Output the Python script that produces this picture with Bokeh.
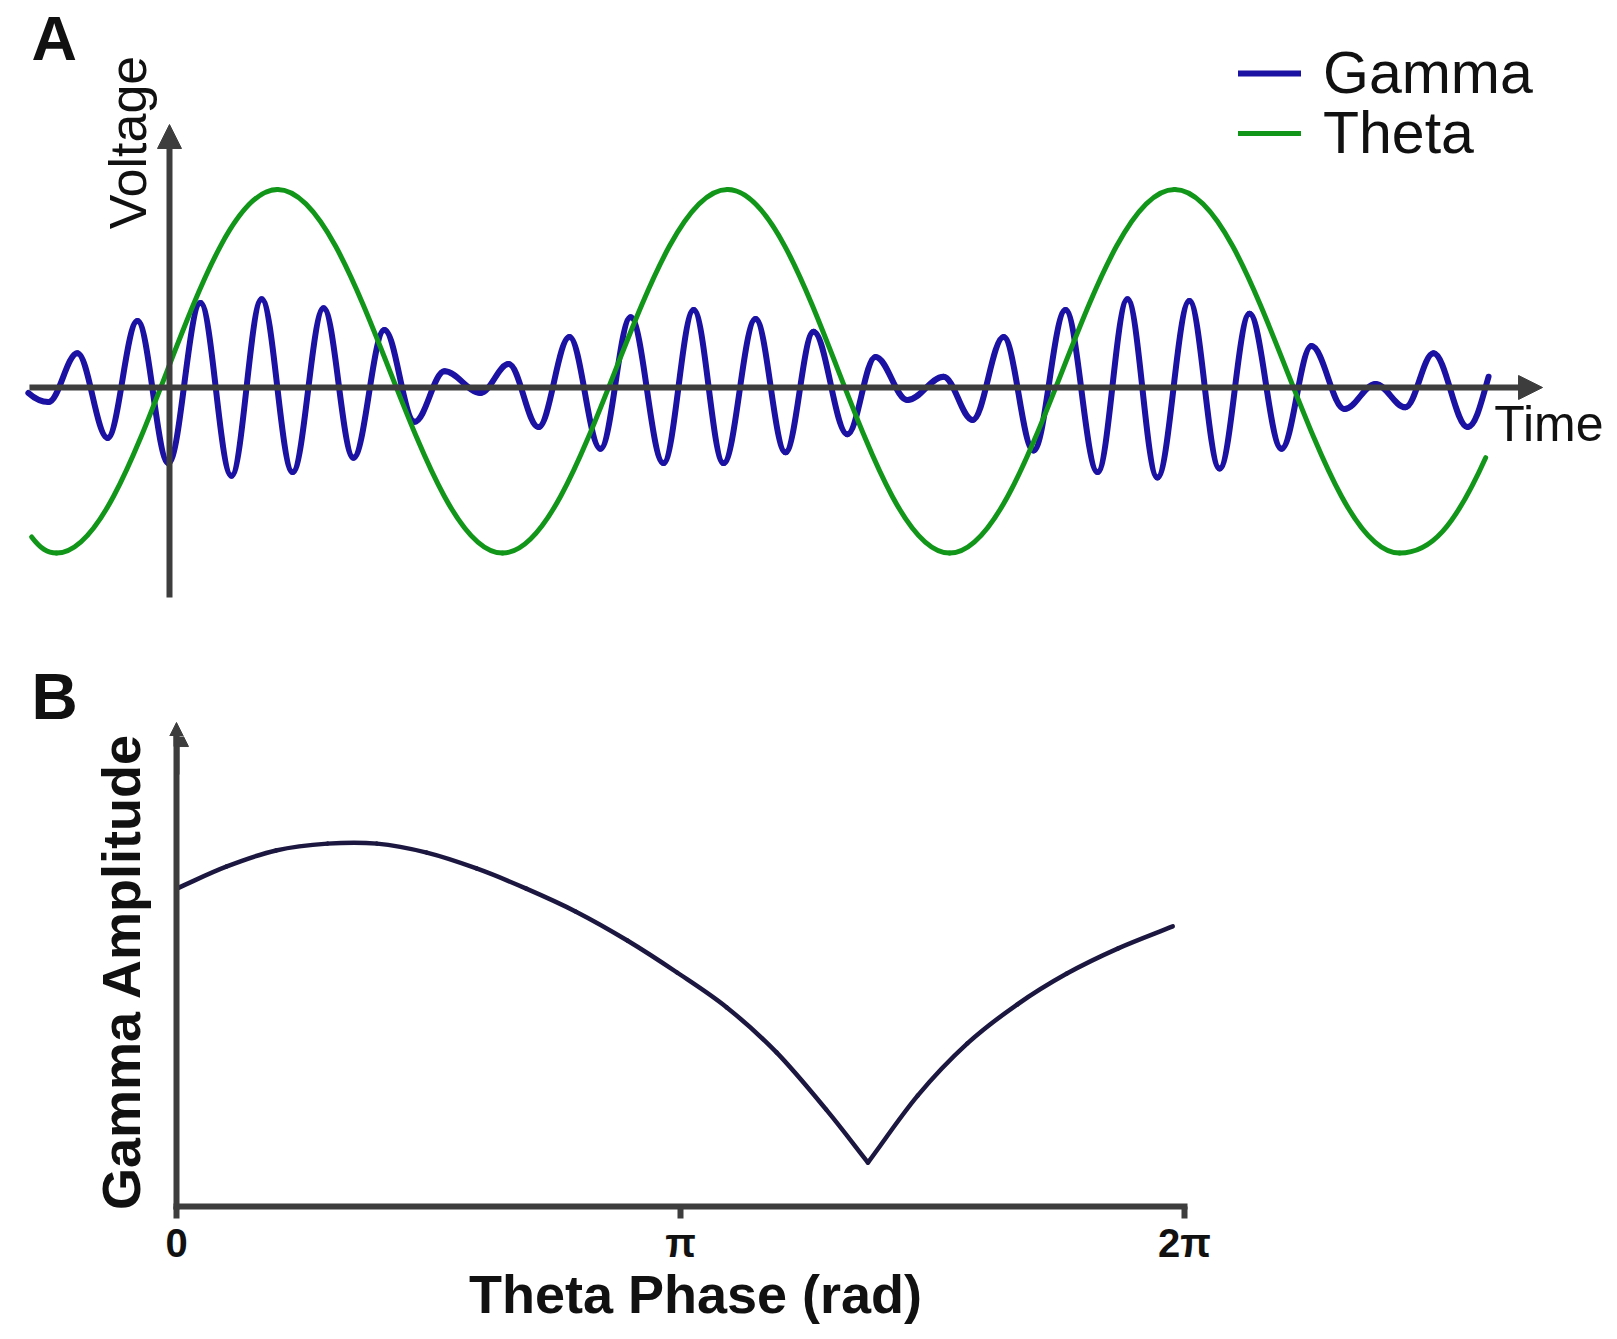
import math
from bokeh.plotting import figure
from bokeh.models import (Range1d, Arrow, NormalHead, Label, Legend, LegendItem,
                          ColumnDataSource, FixedTicker, CustomJSTickFormatter)
from bokeh.embed import file_html
from bokeh.resources import INLINE

# ---------------- data ----------------
# Panel A: successive extrema of the traces (time in ms, voltage in mV)
gamma_t = [-39.2, -33.6, -25.6, -17.2, -8.9, -0.3, 8.6, 17.2, 25.6, 34.2, 42.8,
           51.1, 59.7, 68.1, 76.4, 86.4, 94.2, 102.5, 111.1, 119.7, 128.1,
           137.2, 145.6, 153.9, 162.8, 171.1, 178.9, 188.3, 196.1, 205.0,
           215.0, 223.1, 231.7, 240.0, 248.9, 257.8, 266.1, 274.4, 283.3,
           291.7, 300.0, 308.9, 317.2, 326.4, 335.0, 343.3, 351.1, 360.6, 366.4]
gamma_v = [-0.03, -0.08, 0.19, -0.28, 0.37, -0.42, 0.47, -0.49, 0.49, -0.47, 0.44,
           -0.39, 0.32, -0.19, 0.09, -0.03, 0.13, -0.22, 0.28, -0.34, 0.39,
           -0.42, 0.43, -0.42, 0.38, -0.36, 0.31, -0.26, 0.17, -0.07,
           0.06, -0.18, 0.28, -0.35, 0.43, -0.47, 0.49, -0.50, 0.48,
           -0.45, 0.41, -0.34, 0.23, -0.12, 0.02, -0.11, 0.19, -0.22, 0.06]
theta_t = [-38.3, -31.4, 30.0, 92.5, 155.0, 216.7, 279.2, 341.7, 365.6]
theta_v = [-0.83, -0.92, 1.10, -0.92, 1.10, -0.92, 1.10, -0.92, -0.39]
series_names = ["Gamma", "Theta"]

# Panel B: gamma amplitude vs theta phase (the minimum is a cusp)
phase_rad = [0.00, 0.31, 0.62, 0.94, 1.25, 1.56, 1.87, 2.18, 2.49, 2.81, 3.12,
             3.43, 3.74, 4.05, 4.31, 4.62, 4.93, 5.24, 5.55, 5.87, 6.21]
gamma_amp = [0.883, 0.944, 0.989, 1.008, 1.008, 0.983, 0.939, 0.883, 0.819, 0.739,
             0.650, 0.553, 0.428, 0.269, 0.122, 0.308, 0.453, 0.561, 0.647, 0.717,
             0.778]
phase_ticks = [0.0, math.pi, 2 * math.pi]
phase_tick_labels = ["0", "π", "2π"]

# ---------------- styling ----------------
FONT = "Liberation Sans"
AXIS_C = "#3d3d3d"
GAMMA_C = "#1b11a2"
THETA_C = "#12961a"
CURVE_C = "#1b1740"
TEXT_C = "#111111"
K = 1 - 2 / math.pi   # handle length giving a cosine-like arc between extrema


def wave_source(ts, vs, f_start, f_end):
    """Smooth cubic segments through extrema (flat tangent at each extremum)."""
    n = len(ts)
    slope = [0.0] * n
    slope[0] = f_start * (vs[1] - vs[0]) / (ts[1] - ts[0])
    slope[-1] = f_end * (vs[-1] - vs[-2]) / (ts[-1] - ts[-2])
    d = dict(x0=[], y0=[], x1=[], y1=[], cx0=[], cy0=[], cx1=[], cy1=[])
    for i in range(n - 1):
        h = K * (ts[i + 1] - ts[i])
        d["x0"].append(ts[i]); d["y0"].append(vs[i])
        d["x1"].append(ts[i + 1]); d["y1"].append(vs[i + 1])
        d["cx0"].append(ts[i] + h); d["cy0"].append(vs[i] + slope[i] * h)
        d["cx1"].append(ts[i + 1] - h); d["cy1"].append(vs[i + 1] - slope[i + 1] * h)
    return ColumnDataSource(d)


def smooth_source(xs, ys, breaks):
    """Catmull-Rom style cubic segments through the points; no smoothing across breaks."""
    n = len(xs)
    d = dict(x0=[], y0=[], x1=[], y1=[], cx0=[], cy0=[], cx1=[], cy1=[])
    stops = set([0, n - 1] + list(breaks))

    def tangent(i, side):
        if i in stops:
            j = i + 1 if side == "out" else i - 1
            sgn = 1 if side == "out" else -1
            return ((xs[j] - xs[i]) / 3 * sgn, (ys[j] - ys[i]) / 3 * sgn)
        return ((xs[i + 1] - xs[i - 1]) / 6, (ys[i + 1] - ys[i - 1]) / 6)

    for i in range(n - 1):
        tx0, ty0 = tangent(i, "out")
        tx1, ty1 = tangent(i + 1, "in")
        d["x0"].append(xs[i]); d["y0"].append(ys[i])
        d["x1"].append(xs[i + 1]); d["y1"].append(ys[i + 1])
        d["cx0"].append(xs[i] + tx0); d["cy0"].append(ys[i] + ty0)
        d["cx1"].append(xs[i + 1] - tx1); d["cy1"].append(ys[i + 1] - ty1)
    return ColumnDataSource(d)


head = dict(size=24, fill_color=AXIS_C, line_color=AXIS_C, line_width=1)

# ---------------- panel A ----------------
pA = figure(width=1617, height=736, x_range=Range1d(-46.944, 402.222),
            y_range=Range1d(-1.93889, 2.15), x_axis_type=None, y_axis_type=None,
            toolbar_location=None, output_backend="svg", min_border=0,
            outline_line_color=None, background_fill_color="white",
            border_fill_color="white")
pA.grid.visible = False

pA.add_layout(Arrow(end=NormalHead(**head), x_start=-38.9, y_start=0.0,
                    x_end=381.4, y_end=0.0, line_color=AXIS_C, line_width=6))
pA.add_layout(Arrow(end=NormalHead(**head), x_start=0.0, y_start=-1.167,
                    x_end=0.0, y_end=1.461, line_color=AXIS_C, line_width=6))

g_r = pA.bezier(x0="x0", y0="y0", x1="x1", y1="y1", cx0="cx0", cy0="cy0",
                cx1="cx1", cy1="cy1", source=wave_source(gamma_t, gamma_v, 2.0, 1.5),
                line_color=GAMMA_C, line_width=6, line_cap="round")
t_r = pA.bezier(x0="x0", y0="y0", x1="x1", y1="y1", cx0="cx0", cy0="cy0",
                cx1="cx1", cy1="cy1", source=wave_source(theta_t, theta_v, 2.0, 2.0),
                line_color=THETA_C, line_width=5, line_cap="round")

legend_style = dict(orientation="vertical", padding=0, margin=0, spacing=0,
                    glyph_width=63, glyph_height=20, label_standoff=22,
                    label_text_font=FONT, label_text_font_size="59px",
                    label_text_color=TEXT_C, border_line_color=None,
                    background_fill_alpha=0)
pA.add_layout(Legend(items=[LegendItem(label=series_names[0], renderers=[g_r])],
                     location=(1238, 629), **legend_style))
pA.add_layout(Legend(items=[LegendItem(label=series_names[1], renderers=[t_r])],
                     location=(1238, 569), **legend_style))

pA.add_layout(Label(x=-38.3, y=1.94, text="A", text_font=FONT, text_font_size="63px",
                    text_font_style="bold", text_color=TEXT_C,
                    text_align="left", text_baseline="alphabetic"))
pA.add_layout(Label(x=-11.4, y=1.361, text="Voltage", text_font=FONT,
                    text_font_size="52px", text_color=TEXT_C, angle=math.pi / 2,
                    text_align="center", text_baseline="alphabetic"))
pA.add_layout(Label(x=368.0, y=-0.205, text="Time", text_font=FONT,
                    text_font_size="50px", text_color=TEXT_C,
                    text_align="left", text_baseline="alphabetic"))
# panel letter of the lower figure, set in this canvas just above it
pA.add_layout(Label(x=-38.3, y=-1.717, text="B", text_font=FONT, text_font_size="64px",
                    text_font_style="bold", text_color=TEXT_C,
                    text_align="left", text_baseline="alphabetic"))
# tip of panel B's amplitude arrow, which starts just above panel B's canvas
pA.add_layout(Arrow(end=NormalHead(**head), x_start=1.944, y_start=-1.93889,
                    x_end=1.944, y_end=-1.86111, line_color=AXIS_C, line_width=6))

# ---------------- panel B ----------------
pB = figure(width=1617, height=603, x_range=Range1d(0, 2 * math.pi * 1.02976),
            y_range=Range1d(0, 1.30556), toolbar_location=None, output_backend="svg",
            min_border_left=176, min_border_right=403, min_border_top=0,
            min_border_bottom=133, outline_line_color=None,
            background_fill_color="white", border_fill_color="white")
pB.grid.grid_line_color = None

xa = pB.xaxis[0]
xa.bounds = (0, 2 * math.pi)
xa.ticker = FixedTicker(ticks=phase_ticks, minor_ticks=[])
xa.formatter = CustomJSTickFormatter(
    args=dict(phase_vals=phase_ticks, phase_names=phase_tick_labels), code="""
let best = 0;
for (let i = 0; i < phase_vals.length; i++) {
  if (Math.abs(phase_vals[i] - tick) < Math.abs(phase_vals[best] - tick)) { best = i; }
}
return phase_names[best];
""")
xa.axis_line_color = AXIS_C
xa.axis_line_width = 6
xa.axis_line_cap = "square"
xa.major_tick_line_color = AXIS_C
xa.major_tick_line_width = 6
xa.major_tick_out = 12
xa.major_tick_in = 0
xa.minor_tick_line_color = None
xa.major_label_standoff = 2
xa.major_label_text_font = FONT
xa.major_label_text_font_size = "40px"
xa.major_label_text_font_style = "bold"
xa.major_label_text_color = TEXT_C
xa.axis_label = "Theta Phase (rad)"
xa.axis_label_text_font = FONT
xa.axis_label_text_font_size = "54px"
xa.axis_label_text_font_style = "bold"
xa.axis_label_text_color = TEXT_C
xa.axis_label_standoff = -4

ya = pB.yaxis[0]
ya.ticker = FixedTicker(ticks=[], minor_ticks=[])
ya.axis_line_color = AXIS_C
ya.axis_line_width = 6
ya.axis_line_cap = "square"
ya.major_tick_line_color = None
ya.minor_tick_line_color = None
ya.major_label_text_font_size = "0px"
ya.axis_label = "Gamma Amplitude"
ya.axis_label_text_font = FONT
ya.axis_label_text_font_size = "54px"
ya.axis_label_text_font_style = "bold"
ya.axis_label_text_color = TEXT_C
ya.axis_label_standoff = 26

pB.add_layout(Arrow(end=NormalHead(**head), x_start=0.0, y_start=1.2,
                    x_end=0.0, y_end=1.3444, line_color=AXIS_C, line_width=6))

cusp = gamma_amp.index(min(gamma_amp))
pB.bezier(x0="x0", y0="y0", x1="x1", y1="y1", cx0="cx0", cy0="cy0",
          cx1="cx1", cy1="cy1", source=smooth_source(phase_rad, gamma_amp, [cusp]),
          line_color=CURVE_C, line_width=4.5, line_cap="round")

open("out.html", "w").write(file_html([pA, pB], INLINE))
